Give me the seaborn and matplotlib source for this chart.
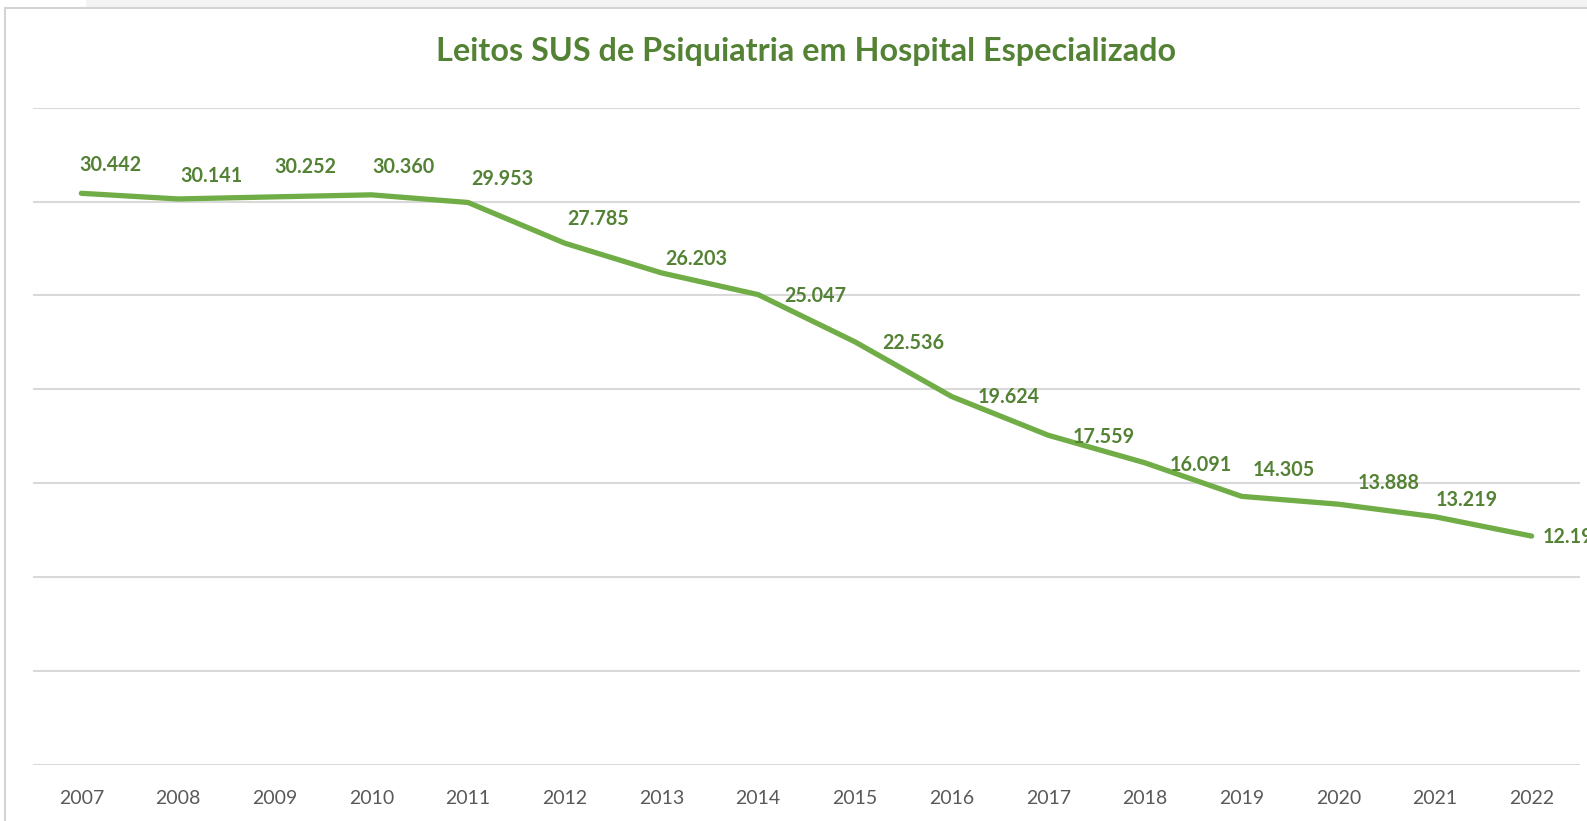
import numpy as np
import pandas as pd
import matplotlib
matplotlib.use("Agg")
import matplotlib.pyplot as plt
import seaborn as sns
from matplotlib.patches import Rectangle

# Data
years = ["2007", "2008", "2009", "2010", "2011", "2012", "2013", "2014",
         "2015", "2016", "2017", "2018", "2019", "2020", "2021", "2022"]
beds = [30442, 30141, 30252, 30360, 29953, 27785, 26203, 25047,
        22536, 19624, 17559, 16091, 14305, 13888, 13219, 12190]

df = pd.DataFrame({"Ano": years, "Leitos": beds})

sns.set_theme(style="white")
plt.rcParams["font.family"] = ["Lato", "DejaVu Sans"]

W, H = 1587, 821
fig = plt.figure(figsize=(W / 100, H / 100), dpi=100)

# Excel window look: grey strip on top and chart border
fig.patches.append(Rectangle((86 / W, 1 - 8 / H), 1, 8 / H, transform=fig.transFigure,
                             facecolor="#f3f3f3", edgecolor="none", zorder=-10))
fig.patches.append(Rectangle((5 / W, -0.01), 1, 1 - 8 / H + 0.01, transform=fig.transFigure,
                             facecolor="white", edgecolor="#d4d4d4", linewidth=1.5, zorder=-10))

ax = fig.add_axes([33 / W, 56 / H, 1547 / W, (765 - 107.7) / H])
ax.set_facecolor("none")

line_green = "#70AD47"
text_green = "#548235"

sns.lineplot(data=df, x="Ano", y="Leitos", ax=ax, color=line_green,
             linewidth=3.8, sort=False, solid_capstyle="round")

ax.set_ylim(0, 35000)
ax.set_xlim(-0.5, len(years) - 0.5)
ax.set_yticks(np.arange(0, 35001, 5000))
ax.yaxis.grid(True, color="#d9d9d9", linewidth=1.5)
ax.set_axisbelow(True)
ax.tick_params(axis="y", left=False, labelleft=False)
ax.tick_params(axis="x", bottom=False, labelsize=14, labelcolor="#595959", pad=12)
for s in ax.spines.values():
    s.set_visible(False)
ax.set_xlabel("")
ax.set_ylabel("")

# data label offsets (pixels, label centre relative to point)
offsets = [(29, 28), (33, 23), (31, 30), (32, 28), (34, 23), (33, 24), (35, 14),
           (57, -1), (58, -1), (57, -1), (55, -2), (56, -2), (42, 26), (50, 21),
           (32, 17), (42, -1)]
for i, v in enumerate(beds):
    label = f"{v:,}".replace(",", ".")
    ax.annotate(label, (i, v), xytext=offsets[i], textcoords="offset pixels",
                ha="center", va="center", fontsize=14.2, fontweight="bold",
                color=text_green, annotation_clip=False)

fig.text((33 + 1580) / 2 / W, 1 - 52 / H, "Leitos SUS de Psiquiatria em Hospital Especializado",
         ha="center", va="center", fontsize=23.3, fontweight="bold", color=text_green)

fig.savefig("out.png", dpi=100)
